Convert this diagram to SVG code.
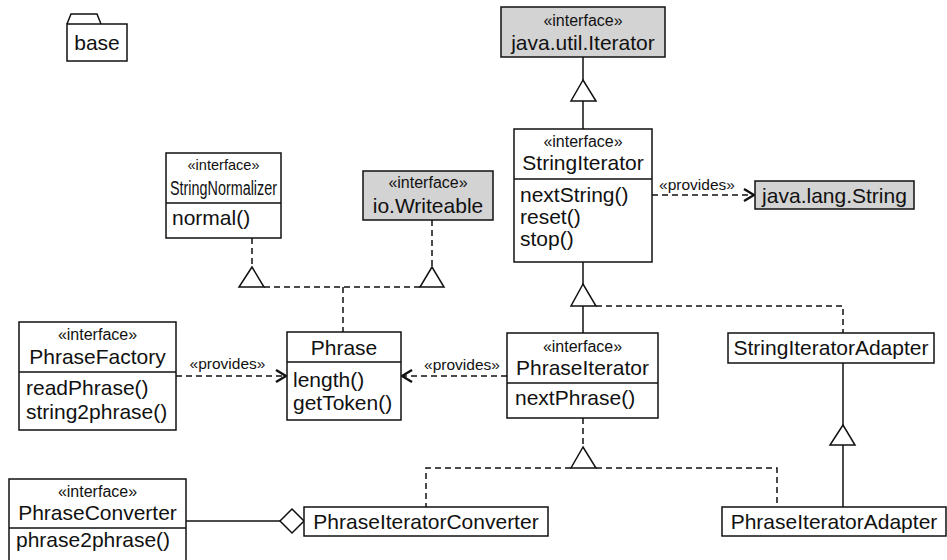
<svg xmlns="http://www.w3.org/2000/svg" width="947" height="560" viewBox="0 0 947 560">
  <style>
    text { font-family: "Liberation Sans", Arial, sans-serif; fill: #111; }
    .st { font-size: 16px; text-anchor: middle; }
    .nm { font-size: 21px; text-anchor: middle; }
    .op { font-size: 21px; }
    .box { fill: #fff; stroke: #111; stroke-width: 1.5; }
    .ext { fill: #d3d3d3; stroke: #111; stroke-width: 1.5; }
    .ln { fill: none; stroke: #111; stroke-width: 1.5; }
    .dash { fill: none; stroke: #111; stroke-width: 1.5; stroke-dasharray: 6 4; }
    .tri { fill: #fff; stroke: #111; stroke-width: 1.5; }
    .lbl { font-size: 15.5px; text-anchor: middle; }
  </style>
  <defs>
    <marker id="open" viewBox="0 0 12 14" refX="11" refY="7" markerWidth="12" markerHeight="14" markerUnits="userSpaceOnUse" orient="auto">
      <path d="M1 1 L11 7 L1 13" fill="none" stroke="#111" stroke-width="2.4"/>
    </marker>
  </defs>

  <rect width="947" height="560" fill="#fff"/>

  <!-- package -->
  <g id="base">
    <path class="ln" d="M67 24 L71 14 L97 14 L101 24"/>
    <rect class="box" x="67" y="24" width="60" height="37"/>
    <text class="op" x="97" y="50" text-anchor="middle">base</text>
  </g>

  <!-- connectors -->
  <g id="connectors">
    <!-- StringIterator extends java.util.Iterator -->
    <line class="ln" x1="583" y1="57" x2="583" y2="80"/>
    <polygon class="tri" points="583,80 571,101 596,101"/>
    <line class="ln" x1="583" y1="101" x2="583" y2="129"/>

    <!-- StringIterator provides java.lang.String -->
    <line class="dash" x1="652" y1="195" x2="754" y2="195" marker-end="url(#open)"/>
    <text class="lbl" x="697" y="190">«provides»</text>

    <!-- Phrase realizes StringNormalizer and io.Writeable -->
    <line class="dash" x1="252" y1="238" x2="252" y2="267"/>
    <polygon class="tri" points="252,267 239,287 264,287"/>
    <line class="dash" x1="432" y1="220" x2="432" y2="267"/>
    <polygon class="tri" points="432,267 420,287 444,287"/>
    <line class="dash" x1="264" y1="287" x2="420" y2="287"/>
    <line class="dash" x1="343" y1="287" x2="343" y2="332"/>

    <!-- PhraseFactory provides Phrase -->
    <line class="dash" x1="176" y1="376" x2="286" y2="376" marker-end="url(#open)"/>
    <text class="lbl" x="227.5" y="369">«provides»</text>

    <!-- PhraseIterator provides Phrase -->
    <line class="dash" x1="507" y1="376" x2="402" y2="376" marker-end="url(#open)"/>
    <text class="lbl" x="462" y="370">«provides»</text>

    <!-- PhraseIterator extends / StringIteratorAdapter realizes StringIterator -->
    <line class="ln" x1="583" y1="262" x2="583" y2="284"/>
    <polygon class="tri" points="583,284 571,306 596,306"/>
    <line class="ln" x1="583" y1="306" x2="583" y2="333"/>
    <polyline class="dash" points="596,306 843,306 843,333"/>

    <!-- PhraseIteratorAdapter extends StringIteratorAdapter -->
    <line class="ln" x1="843" y1="363" x2="843" y2="425"/>
    <polygon class="tri" points="843,425 830,445 855,445"/>
    <line class="ln" x1="843" y1="445" x2="843" y2="507"/>

    <!-- converters and adapters realize PhraseIterator -->
    <line class="dash" x1="583" y1="418" x2="583" y2="447"/>
    <polygon class="tri" points="583,447 571,468 596,468"/>
    <polyline class="dash" points="571,468 426,468 426,507"/>
    <polyline class="dash" points="596,468 777,468 777,507"/>

    <!-- PhraseIteratorConverter aggregates PhraseConverter -->
    <line class="ln" x1="186" y1="521" x2="280" y2="521"/>
    <polygon class="tri" points="280,521 292,509 304,521 292,533"/>
  </g>

  <!-- classes -->
  <g id="java-util-Iterator">
    <rect class="ext" x="501" y="7" width="164" height="50"/>
    <text class="st" x="583" y="26">«interface»</text>
    <text class="nm" x="583" y="50">java.util.Iterator</text>
  </g>

  <g id="StringIterator">
    <rect class="box" x="514" y="129" width="138" height="133"/>
    <line class="ln" x1="514" y1="179" x2="652" y2="179"/>
    <text class="st" x="583" y="147">«interface»</text>
    <text class="nm" x="583" y="170">StringIterator</text>
    <text class="op" x="520" y="202">nextString()</text>
    <text class="op" x="520" y="224">reset()</text>
    <text class="op" x="520" y="246">stop()</text>
  </g>

  <g id="java-lang-String">
    <rect class="ext" x="755" y="181" width="159" height="28"/>
    <text class="nm" x="834.5" y="203">java.lang.String</text>
  </g>

  <!-- long name: squeezed to fit the narrow box -->
  <g id="StringNormalizer">
    <rect class="box" x="166" y="153" width="115" height="85"/>
    <line class="ln" x1="166" y1="203" x2="281" y2="203"/>
    <text class="st" x="223.5" y="170" style="font-size:15px" textLength="72" lengthAdjust="spacingAndGlyphs">«interface»</text>
    <text class="nm" x="223.5" y="195" style="font-size:20px" textLength="107" lengthAdjust="spacingAndGlyphs">StringNormalizer</text>
    <text class="op" x="172" y="225">normal()</text>
  </g>

  <g id="io-Writeable">
    <rect class="ext" x="363" y="171" width="130" height="49"/>
    <text class="st" x="428" y="188">«interface»</text>
    <text class="nm" x="428" y="213">io.Writeable</text>
  </g>

  <g id="PhraseFactory">
    <rect class="box" x="19" y="322" width="157" height="108"/>
    <line class="ln" x1="19" y1="372" x2="176" y2="372"/>
    <text class="st" x="97.5" y="340">«interface»</text>
    <text class="nm" x="97.5" y="364">PhraseFactory</text>
    <text class="op" x="26" y="395">readPhrase()</text>
    <text class="op" x="26" y="419">string2phrase()</text>
  </g>

  <g id="Phrase">
    <rect class="box" x="287" y="332" width="114" height="88"/>
    <line class="ln" x1="287" y1="362" x2="401" y2="362"/>
    <text class="nm" x="344" y="355">Phrase</text>
    <text class="op" x="293" y="387">length()</text>
    <text class="op" x="293" y="410">getToken()</text>
  </g>

  <g id="PhraseIterator">
    <rect class="box" x="507" y="333" width="151" height="85"/>
    <line class="ln" x1="507" y1="383" x2="658" y2="383"/>
    <text class="st" x="582.5" y="352">«interface»</text>
    <text class="nm" x="582.5" y="375">PhraseIterator</text>
    <text class="op" x="515" y="405">nextPhrase()</text>
  </g>

  <g id="StringIteratorAdapter">
    <rect class="box" x="728" y="333" width="206" height="30"/>
    <text class="nm" x="831" y="355">StringIteratorAdapter</text>
  </g>

  <g id="PhraseIteratorConverter">
    <rect class="box" x="304" y="507" width="244" height="29"/>
    <text class="nm" x="426" y="529">PhraseIteratorConverter</text>
  </g>

  <g id="PhraseIteratorAdapter">
    <rect class="box" x="722" y="507" width="224" height="29"/>
    <text class="nm" x="834" y="529">PhraseIteratorAdapter</text>
  </g>

  <g id="PhraseConverter">
    <rect class="box" x="9" y="479" width="177" height="84"/>
    <line class="ln" x1="9" y1="528" x2="186" y2="528"/>
    <text class="st" x="97.5" y="497">«interface»</text>
    <text class="nm" x="97.5" y="520">PhraseConverter</text>
    <text class="op" x="16" y="547">phrase2phrase()</text>
  </g>
</svg>
